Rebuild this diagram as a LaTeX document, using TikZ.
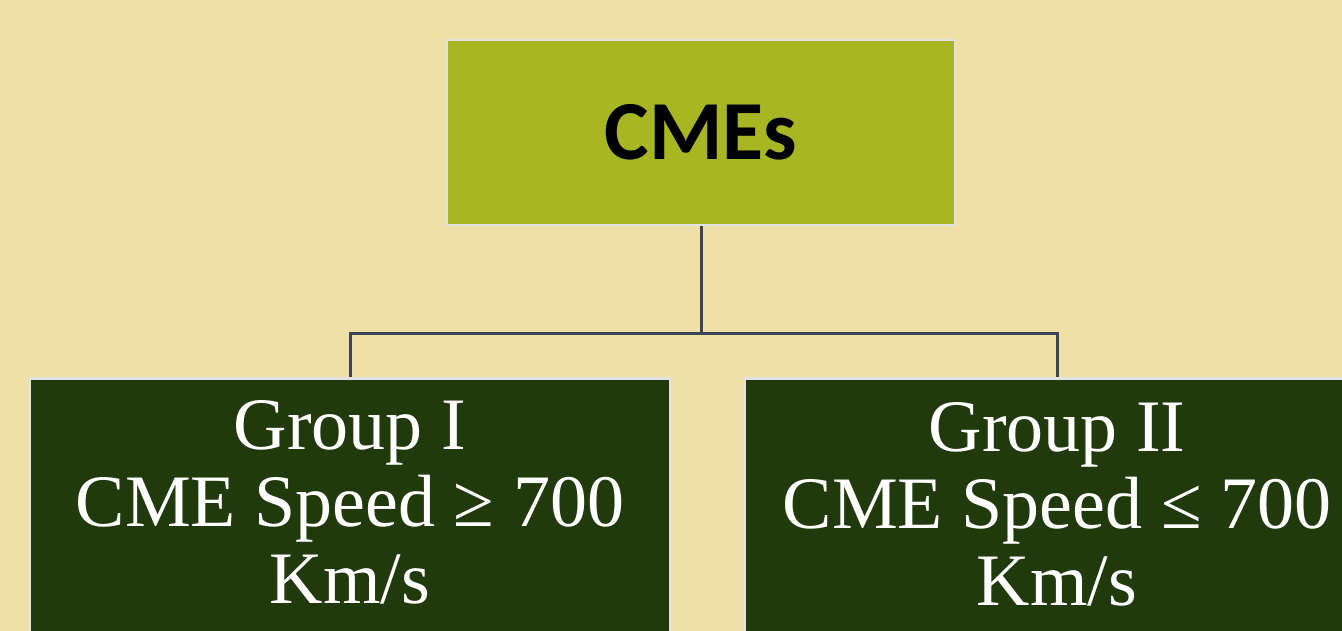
\documentclass[tikz,border=0pt]{standalone}
\usepackage{fontspec}
\setmainfont{Liberation Serif}
\newfontfamily\headfont{Carlito}
\definecolor{bg}{HTML}{EFE0A8}
\definecolor{olive}{HTML}{A9B623}
\definecolor{darkgreen}{HTML}{213A0C}
\definecolor{rim}{HTML}{E2E2E2}
\definecolor{wire}{HTML}{3A4558}
\tikzset{
  topbox/.style={rectangle, fill=olive, draw=rim, line width=2.5pt, inner sep=0pt,
    minimum width=508pt, minimum height=185pt,
    font=\headfont\bfseries\fontsize{84}{90}\selectfont, text=black},
  groupbox/.style={rectangle, fill=darkgreen, draw=rim, line width=2.5pt, inner sep=0pt,
    anchor=north, minimum height=320pt},
  grouptext/.style={anchor=north, inner sep=0pt, align=center, text=white,
    font=\fontsize{74}{77}\selectfont},
  link/.style={draw=wire, line width=3pt}
}
\begin{document}
\begin{tikzpicture}[x=1pt,y=-1pt]
\useasboundingbox (0,0) rectangle (1342,631);
\clip (0,0) rectangle (1342,631);
\fill[bg] (0,0) rectangle (1342,631);
\node[topbox] (cme) at (701,132.5) {CMEs};
\node[groupbox, minimum width=640pt] (g1) at (350,377) {};
\node[groupbox, minimum width=624pt] (g2) at (1057,377) {};
\node[grouptext] (t1) at (350,400) {Group I\\CME Speed ≥ 700\\Km/s};
\node[grouptext] (t2) at (1057,402) {Group II\\CME Speed ≤ 700\\Km/s};
\coordinate (mid) at (701,333);
\draw[link] (cme.south) -- (mid) -| (g1.north);
\draw[link] (mid) -| (g2.north);
\end{tikzpicture}
\end{document}
